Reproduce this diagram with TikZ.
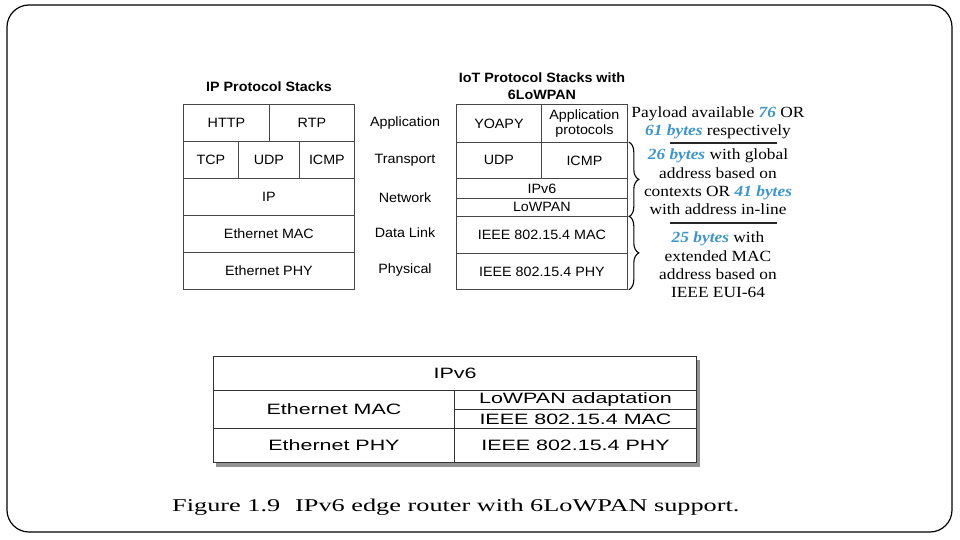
\documentclass[tikz,border=0pt]{standalone}
\usepackage{fontspec}
\setmainfont{Liberation Serif}[FakeStretch=1.12]
\setsansfont{Liberation Sans}[FakeStretch=1.06]
\newfontfamily\tablefont{Liberation Sans}[FakeStretch=1.43]
\newfontfamily\capfont{Liberation Serif}[FakeStretch=1.46]
\usepackage{xcolor}
\usetikzlibrary{positioning,fit,backgrounds,shadows,decorations.pathreplacing}
\definecolor{bytesblue}{RGB}{60,150,205}
\definecolor{cellgray}{RGB}{70,70,70}
\newcommand{\nbytes}[1]{\textcolor{bytesblue}{\textbf{\textit{#1}}}}

\tikzset{
 cell/.style 2 args={draw=cellgray,line width=0.8pt,inner sep=0pt,anchor=north west,
   minimum width=#1pt,minimum height=#2pt,font=\sffamily\fontsize{13.5}{15}\selectfont},
 tcell/.style 2 args={cell={#1}{#2},draw=black!80,line width=1pt,font=\tablefont\fontsize{15}{16}\selectfont},
 layer/.style={font=\sffamily\fontsize{13.5}{15}\selectfont},
 stacktitle/.style={font=\sffamily\bfseries\fontsize{13.5}{17.5}\selectfont,align=center},
 note/.style={align=center,font=\fontsize{15.5}{18.3}\selectfont,inner sep=0pt},
 brace/.style={decorate,decoration={brace,amplitude=10pt,raise=1pt},line width=1.1pt},
 rule/.style={line width=1.8pt,draw=black!85}
}

\begin{document}
\begin{tikzpicture}[x=1pt,y=-1pt]
 \useasboundingbox (0,0) rectangle (960,540);
 \draw[rounded corners=22pt,line width=1.2pt] (7,5) rectangle (952,532);

 % IP protocol stacks
 \node[stacktitle] (iptitle) at (269,87) {IP Protocol Stacks};
 \node[cell={86}{37}] (http) at (183,104) {HTTP};
 \node[cell={85}{37}] (rtp) at (269,104) {RTP};
 \node[cell={55}{37}] (tcp) at (183,141) {TCP};
 \node[cell={61}{37}] (udp) at (238,141) {UDP};
 \node[cell={55}{37}] (icmp) at (299,141) {ICMP};
 \node[cell={171}{37}] (ip) at (183,178) {IP};
 \node[cell={171}{37}] (ethmac) at (183,215) {Ethernet MAC};
 \node[cell={171}{37}] (ethphy) at (183,252) {Ethernet PHY};

 % layer names
 \node[layer] (lapp) at (405,123) {Application};
 \node[layer] (ltrans) at (405,160) {Transport};
 \node[layer] (lnet) at (405,198) {Network};
 \node[layer] (llink) at (405,233) {Data Link};
 \node[layer] (lphy) at (405,270) {Physical};

 % IoT protocol stacks
 \node[stacktitle] (iottitle) at (542,86) {IoT Protocol Stacks with\\6LoWPAN};
 \node[cell={85}{38}] (yoapy) at (456,104) {YOAPY};
 \node[cell={86}{38},align=center,font=\sffamily\fontsize{13.5}{14.5}\selectfont] (approto) at (541,104) {Application\\protocols};
 \node[cell={85}{36}] (udp2) at (456,142) {UDP};
 \node[cell={86}{36}] (icmp2) at (541,142) {ICMP};
 \node[cell={171}{20}] (ipv6) at (456,178) {IPv6};
 \node[cell={171}{18}] (lowpan) at (456,198) {LoWPAN};
 \node[cell={171}{37}] (mac2) at (456,216) {IEEE 802.15.4 MAC};
 \node[cell={171}{36}] (phy2) at (456,253) {IEEE 802.15.4 PHY};

 \draw[brace] (icmp2.north east) -- (lowpan.south east);
 \draw[brace] (mac2.north east) -- (phy2.south east);

 % header sizes
 \node[note] (payload) at (718,123) {Payload available \nbytes{76} OR\\\nbytes{61 bytes} respectively};
 \draw[rule] (670,143) -- (777,143);
 \node[note] (global) at (718,182) {\nbytes{26 bytes} with global\\address based on\\contexts OR \nbytes{41 bytes}\\with address in-line};
 \draw[rule] (670,223) -- (777,223);
 \node[note] (extmac) at (718,265) {\nbytes{25 bytes} with\\extended MAC\\address based on\\IEEE EUI-64};

 % edge router
 \node[tcell={483}{34}] (tipv6) at (213,356) {IPv6};
 \node[tcell={241}{38}] (tethmac) at (213,390) {Ethernet MAC};
 \node[tcell={242}{19}] (tadapt) at (454,390) {LoWPAN adaptation};
 \node[tcell={242}{19}] (tmac) at (454,409) {IEEE 802.15.4 MAC};
 \node[tcell={241}{34}] (tethphy) at (213,428) {Ethernet PHY};
 \node[tcell={242}{34}] (tphy) at (454,428) {IEEE 802.15.4 PHY};
 \begin{scope}[on background layer]
  \node[fit=(tipv6)(tethphy)(tphy),inner sep=0pt,fill=white,
   drop shadow={shadow xshift=3pt,shadow yshift=-4pt,fill=black!85}] (tframe) {};
 \end{scope}

 \node[anchor=base west,inner sep=0pt,font=\capfont\fontsize{18}{20}\selectfont] (caption) at (172,511)
  {Figure 1.9\hspace{15pt}IPv6 edge router with 6LoWPAN support.};
\end{tikzpicture}
\end{document}
